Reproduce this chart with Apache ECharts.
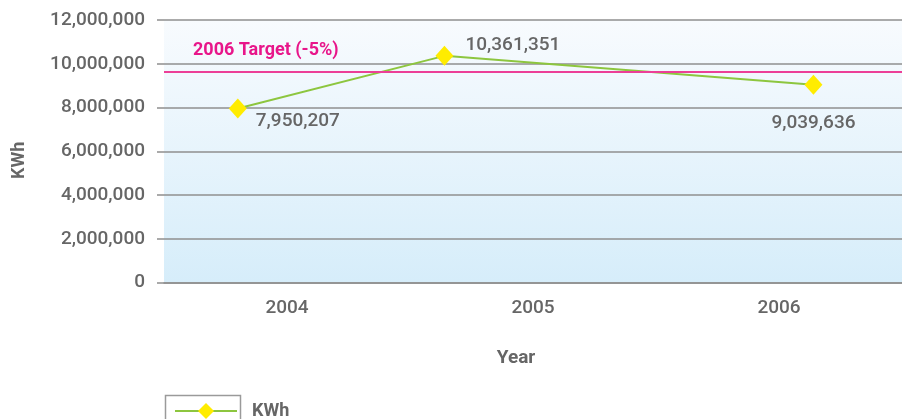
<!DOCTYPE html>
<html>
<head>
<meta charset="utf-8">
<script src="https://cdn.jsdelivr.net/npm/echarts@6/dist/echarts.min.js"></script>
<style>
html,body{margin:0;padding:0;background:#fff;}
#c{width:902px;height:419px;}
</style>
</head>
<body>
<div id="c"></div>
<script>
// ---- data ----
var categories = ['2004', '2005', '2006'];
var kwhValues = [7950207, 10361351, 9039636];
// horizontal placement of each point (in year units)
var pointYearPos = [2003.8, 2004.64, 2006.14];
var targetValue = 9630000;
var targetLabel = '2006 Target (-5%)';
var seriesName = 'KWh';
var yTicks = [0, 2000000, 4000000, 6000000, 8000000, 10000000, 12000000];

var FONT = 'Roboto, "Liberation Sans", sans-serif';
var TEXT = '#666666';
var GRID = '#8f8f8f';

function fmt(v){ return String(v).replace(/\B(?=(\d{3})+(?!\d))/g, ','); }

var labelCfg = [
  {position:'right', offset:[4, 13]},
  {position:'right', offset:[7, -11]},
  {position:'bottom', distance:19}
];

var seriesData = kwhValues.map(function(v, i){
  return {
    value: [pointYearPos[i], v],
    label: Object.assign({show:true}, labelCfg[i])
  };
});

var chart = echarts.init(document.getElementById('c'), null, {renderer:'canvas'});
chart.setOption({
  backgroundColor: '#ffffff',
  animation: false,
  textStyle: {fontFamily: FONT},
  grid: {
    left: 164, top: 20, right: -12, bottom: 136.5,
    show: true,
    borderWidth: 0,
    backgroundColor: {
      type: 'linear', x: 0, y: 0, x2: 0, y2: 1,
      colorStops: [{offset: 0, color: '#f8fbfe'}, {offset: 1, color: '#d6edfa'}]
    }
  },
  legend: {
    left: 169, top: 397,
    itemWidth: 62, itemHeight: 20,
    data: [seriesName],
    textStyle: {color: TEXT, fontSize: 18, fontFamily: FONT, fontWeight: 'bold', padding: [0,0,0,10]}
  },
  graphic: [{
    type: 'rect', left: 163, top: 393, silent: true,
    shape: {width: 75, height: 34},
    style: {fill: 'none', stroke: '#9a9a9a', lineWidth: 1.5}
  }],
  xAxis: [{
    type: 'category',
    data: categories,
    boundaryGap: true,
    axisLine: {show: true, lineStyle: {color: GRID, width: 1.5}},
    axisTick: {show: false},
    axisLabel: {color: TEXT, fontSize: 19, fontFamily: FONT, fontWeight: 500, margin: 16},
    name: 'Year',
    nameLocation: 'middle',
    nameGap: 66,
    nameTextStyle: {color: TEXT, fontSize: 19, fontFamily: FONT, fontWeight: 'bold', padding: [0, 34, 0, 0]}
  }, {
    type: 'value',
    min: 2003.5, max: 2006.5,
    show: false
  }],
  yAxis: {
    type: 'value',
    min: 0, max: 12000000, interval: 2000000,
    axisLine: {show: false},
    axisTick: {show: true, length: 7, lineStyle: {color: GRID, width: 1.5}},
    splitLine: {show: true, lineStyle: {color: GRID, width: 1.5}},
    axisLabel: {color: TEXT, fontSize: 19, fontFamily: FONT, fontWeight: 500, margin: 19,
      formatter: function(v){ return fmt(v); }},
    name: seriesName,
    nameLocation: 'middle',
    nameGap: 136,
    nameTextStyle: {color: TEXT, fontSize: 18, fontFamily: FONT, fontWeight: 'bold', padding: [0, 18, 0, 0]}
  },
  series: [{
    name: seriesName,
    type: 'line',
    xAxisIndex: 1,
    data: seriesData,
    symbol: 'diamond',
    symbolSize: [18, 20],
    itemStyle: {color: '#ffec00'},
    lineStyle: {color: '#8dc63f', width: 2},
    label: {
      color: TEXT, fontSize: 19, fontFamily: FONT, fontWeight: 500,
      formatter: function(p){ return fmt(p.value[1]); }
    },
    markLine: {
      silent: true,
      symbol: ['none', 'none'],
      lineStyle: {color: '#ec3f97', width: 2, type: 'solid'},
      label: {
        show: true, position: 'insideStartTop', distance: [29, 12],
        color: '#e8168a', fontSize: 18, fontWeight: 'bold', fontFamily: FONT,
        formatter: targetLabel
      },
      data: [{yAxis: targetValue}]
    }
  }]
});
</script>
</body>
</html>
